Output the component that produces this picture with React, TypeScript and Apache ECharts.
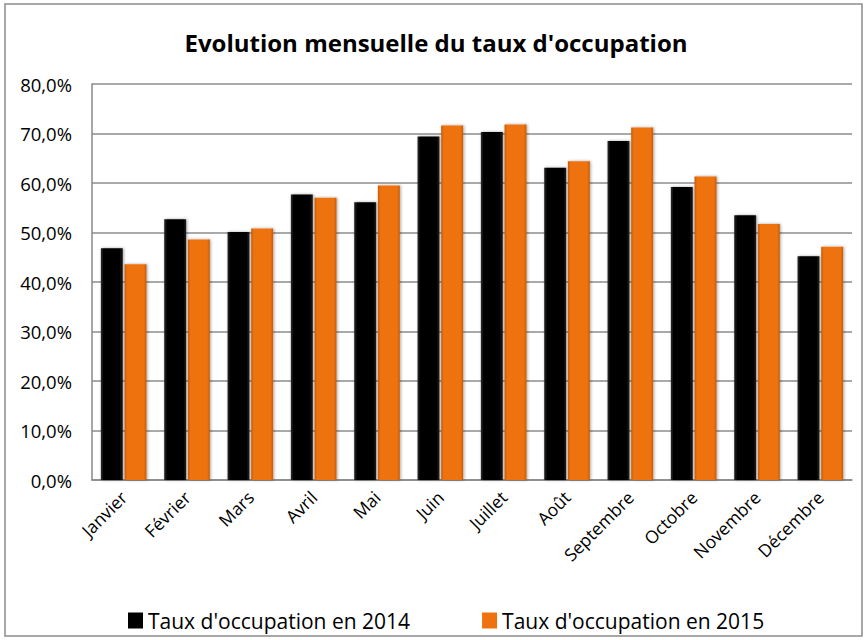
import React, { useEffect, useRef } from "react";
import * as echarts from "echarts";

const months = ["Janvier", "Février", "Mars", "Avril", "Mai", "Juin", "Juillet", "Août", "Septembre", "Octobre", "Novembre", "Décembre"];
const taux2014 = [46.8, 52.7, 50.1, 57.7, 56.1, 69.4, 70.3, 63.1, 68.5, 59.2, 53.5, 45.2];
const taux2015 = [43.6, 48.6, 50.8, 57.0, 59.5, 71.6, 71.8, 64.4, 71.2, 61.3, 51.7, 47.1];
const yTicks = [0, 10, 20, 30, 40, 50, 60, 70, 80];

const FONT = "'Open Sans', 'Noto Sans', sans-serif";

export default function App() {
  const ref = useRef<HTMLDivElement>(null);
  useEffect(() => {
    const chart = echarts.init(ref.current!, null, { renderer: "svg" });
    const blackGrad = new echarts.graphic.LinearGradient(0, 0, 1, 0, [
      { offset: 0, color: "#2a2a2a" },
      { offset: 0.12, color: "#050505" },
      { offset: 0.88, color: "#050505" },
      { offset: 1, color: "#1e1e1e" },
    ]);
    const orangeGrad = new echarts.graphic.LinearGradient(0, 0, 1, 0, [
      { offset: 0, color: "#c65a05" },
      { offset: 0.12, color: "#ee720f" },
      { offset: 0.88, color: "#ee720f" },
      { offset: 1, color: "#c65a05" },
    ]);
    chart.setOption({
      animation: false,
      title: {
        text: "Evolution mensuelle du taux d'occupation",
        left: 431,
        textAlign: "center",
        top: 25,
        textStyle: { fontFamily: FONT, fontSize: 24, fontWeight: "bold", color: "#000" },
      },
      graphic: [
        {
          type: "rect",
          shape: { x: 5, y: 4, width: 857, height: 632 },
          style: { fill: "none", stroke: "#8c8c8c", lineWidth: 1.5 },
          silent: true,
        },
      ],
      legend: {
        top: 605,
        left: 123,
        itemGap: 72,
        itemWidth: 15,
        itemHeight: 16,
        icon: "rect",
        textStyle: { fontFamily: FONT, fontSize: 21, color: "#000" },
        data: [
          { name: "Taux d'occupation en 2014", itemStyle: { color: "#000" } },
          { name: "Taux d'occupation en 2015", itemStyle: { color: "#ee720f" } },
        ],
      },
      grid: { left: 92, right: 16, top: 84, bottom: 160 },
      xAxis: {
        type: "category",
        data: months,
        axisLine: { lineStyle: { color: "#888", width: 1.5 } },
        axisTick: { show: false },
        axisLabel: {
          rotate: 45,
          interval: 0,
          fontFamily: FONT,
          fontSize: 17.5,
          color: "#000",
          margin: 14,
        },
      },
      yAxis: {
        type: "value",
        min: 0,
        max: 80,
        interval: 10,
        axisLine: { show: true, lineStyle: { color: "#888", width: 1.5 } },
        axisTick: { show: false },
        splitLine: { lineStyle: { color: "#8c8c8c", width: 1.5 } },
        axisLabel: {
          fontFamily: FONT,
          fontSize: 18.5,
          color: "#000",
          margin: 20,
          formatter: (v: number) => (yTicks.includes(v) ? v.toFixed(1).replace(".", ",") + "%" : ""),
        },
      },
      series: [
        {
          name: "Taux d'occupation en 2014",
          type: "bar",
          data: taux2014,
          barGap: "8%",
          barCategoryGap: "28%",
          itemStyle: {
            color: blackGrad,
            shadowColor: "rgba(0,0,0,0.35)",
            shadowBlur: 3,
            shadowOffsetX: 1,
          },
        },
        {
          name: "Taux d'occupation en 2015",
          type: "bar",
          data: taux2015,
          itemStyle: {
            color: orangeGrad,
            shadowColor: "rgba(0,0,0,0.35)",
            shadowBlur: 3,
            shadowOffsetX: 1,
          },
        },
      ],
    });
    return () => chart.dispose();
  }, []);
  return (
    <div
      ref={ref}
      style={{ position: "fixed", left: 0, top: 0, width: 868, height: 640, background: "#fff" }}
    />
  );
}
